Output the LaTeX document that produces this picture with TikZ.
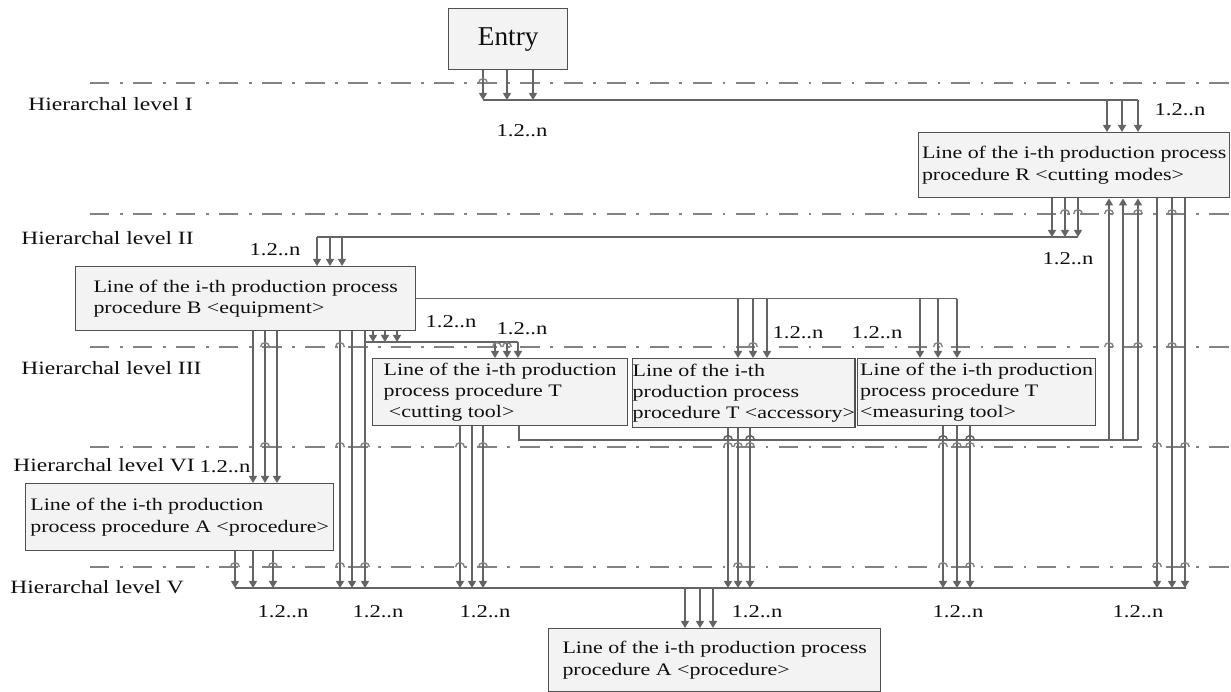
\documentclass[tikz,border=0pt]{standalone}
\usepackage{fontspec}
\setmainfont{Liberation Serif}[FakeStretch=1.25]
\newfontfamily\entryfont{Liberation Serif}
\usetikzlibrary{arrows.meta}
\definecolor{boxgray}{RGB}{80,80,80}
\definecolor{boxfill}{RGB}{243,243,243}
\definecolor{wiregray}{RGB}{100,100,100}
\definecolor{levelgray}{RGB}{130,130,130}
\definecolor{inkgray}{RGB}{15,15,15}

\begin{document}
\begin{tikzpicture}[%
x=0.02cm, y=-0.02cm,
pbox/.style={draw=boxgray, fill=boxfill, line width=0.8pt, anchor=north west, align=left, inner sep=0pt, text=inkgray, font=\fontsize{10}{12}\selectfont},
lvl/.style={anchor=west, inner sep=0pt, text=inkgray, font=\fontsize{10.7}{12}\selectfont},
cnt/.style={inner sep=0pt, text=inkgray, font=\fontsize{10.3}{12}\selectfont},
wire/.style={draw=wiregray, line width=0.9pt},
arr/.style={wire, -{Triangle[length=4pt,width=4.5pt]}},
levelline/.style={draw=levelgray, line width=1.1pt, dash pattern=on 11pt off 6pt on 1.5pt off 6pt},
hopline/.style={draw=levelgray, line width=0.8pt},
]
\useasboundingbox (0,0) rectangle (1231,691);
%% level separators;
\foreach \y in {83,214,347,447,567}
  \draw[levelline] (90,\y) -- (1231,\y);
%% level names;
\node[lvl] (lvlI) at (28,104) {Hierarchal level I};
\node[lvl] (lvlII) at (21,238) {Hierarchal level II};
\node[lvl] (lvlIII) at (21,368) {Hierarchal level III};
\node[lvl] (lvlVI) at (13,465) {Hierarchal level VI};
\node[lvl] (lvlV) at (10,587) {Hierarchal level V};
%% boxes;
\node[pbox, align=center, minimum width=2.38cm, minimum height=1.22cm, font=\entryfont\fontsize{15.5}{18}\selectfont] (entry) at (448,8) {Entry};
\node[pbox, minimum width=6.22cm, minimum height=1.30cm] (rbox) at (918,132) {Line of the i-th production process\\procedure R <cutting modes>};
\node[pbox, minimum width=6.80cm, minimum height=1.28cm] (bbox) at (75,266) {Line of the i-th production process\\procedure B <equipment>};
\node[pbox, minimum width=5.10cm, minimum height=1.34cm] (tcut) at (372,358) {Line of the i-th production\\process procedure T\\\hspace{0.3em}<cutting tool>};
\node[pbox, minimum width=4.40cm, minimum height=1.38cm] (tacc) at (632,358) {Line of the i-th\\production process\\procedure T <accessory>};
\node[pbox, minimum width=4.76cm, minimum height=1.34cm] (tmes) at (857,358) {Line of the i-th production\\process procedure T\\<measuring tool>};
\node[pbox, minimum width=6.16cm, minimum height=1.34cm] (aleft) at (25,483) {Line of the i-th production\\process procedure A <procedure>};
\node[pbox, minimum width=6.64cm, minimum height=1.26cm] (abot) at (548,628) {Line of the i-th production process\\procedure A <procedure>};
%% bus levels;
\coordinate (busI) at (483,100);
\coordinate (busII) at (317,237);
\coordinate (busT) at (365,342);
\coordinate (busR) at (519,440);
\coordinate (busV) at (235,588);
%% entry -> R;
\foreach \x in {483,507,533} \draw[arr] (entry.south-|\x,0) -- (\x,0|-busI);
\draw[wire] (busI) -- (1138,0|-busI);
\foreach \x in {1107,1122,1138} \draw[arr] (\x,0|-busI) -- (rbox.north-|\x,0);
%% R -> B;
\foreach \x in {1052,1065,1078} \draw[arr] (rbox.south-|\x,0) -- (\x,0|-busII);
\draw[wire] (busII) -- (1078,0|-busII);
\foreach \x in {317,330,342} \draw[arr] (\x,0|-busII) -- (bbox.north-|\x,0);
%% B -> T;
\draw[wire] (bbox.east) -- (957,0|-bbox.east);
\foreach \x in {738,753,767} \draw[arr] (\x,0|-bbox.east) -- (tacc.north-|\x,0);
\foreach \x in {920,938,957} \draw[arr] (\x,0|-bbox.east) -- (tmes.north-|\x,0);
\foreach \x in {373,385,397} \draw[arr] (bbox.south-|\x,0) -- (\x,0|-busT);
\draw[wire] (busT) -- (518,0|-busT);
\foreach \x in {495,507,518} \draw[arr] (\x,0|-busT) -- (tcut.north-|\x,0);
%% B -> A;
\foreach \x in {253,265,277} \draw[arr] (bbox.south-|\x,0) -- (aleft.north-|\x,0);
\foreach \x in {340,352,365} \draw[arr] (bbox.south-|\x,0) -- (\x,0|-busV);
%% T -> R;
\draw[wire] (tcut.south-|busR) |- (1138,0|-busR);
\foreach \x in {1109,1123,1138} \draw[arr] (\x,0|-busR) -- (rbox.south-|\x,0);
%% down to level V;
\foreach \x in {235,253,273} \draw[arr] (aleft.south-|\x,0) -- (\x,0|-busV);
\foreach \x in {460,472,483} \draw[arr] (tcut.south-|\x,0) -- (\x,0|-busV);
\foreach \x in {728,738,750} \draw[arr] (tacc.south-|\x,0) -- (\x,0|-busV);
\foreach \x in {943,957,970} \draw[arr] (tmes.south-|\x,0) -- (\x,0|-busV);
\foreach \x in {1157,1172,1185} \draw[arr] (rbox.south-|\x,0) -- (\x,0|-busV);
\draw[wire] (busV) -- (1186,0|-busV);
\foreach \x in {685,700,713} \draw[arr] (\x,0|-busV) -- (abot.north-|\x,0);
%% line jumps;
\foreach \y/\xs in {83/{483}, 214/{1065,1078,1109,1138,1172},
    347/{265,340,497,507,753,938,1109,1138,1172},
    447/{265,340,365,460,483,728,738,750,943,957,970,1157,1185},
    567/{235,273,340,365,460,483,738,943,970,1157,1185}}
  \foreach \x in \xs \draw[hopline] ([xshift=-2.5pt]\x,\y) arc (180:0:2.5pt);
\foreach \x in {728,750,943,970} \draw[wire] ([xshift=-2.5pt]\x,440) arc (180:0:2.5pt);
%% counts;
\foreach \x/\y [count=\i] in {522/131,1180/110,275/250,1068/259,451/322,522/329,798/333,877/333,225/467,283/612,378/612,485/612,757/612,958/612,1138/612}
  \node[cnt] (num\i) at (\x,\y) {1.2..n};
\end{tikzpicture}
\end{document}
